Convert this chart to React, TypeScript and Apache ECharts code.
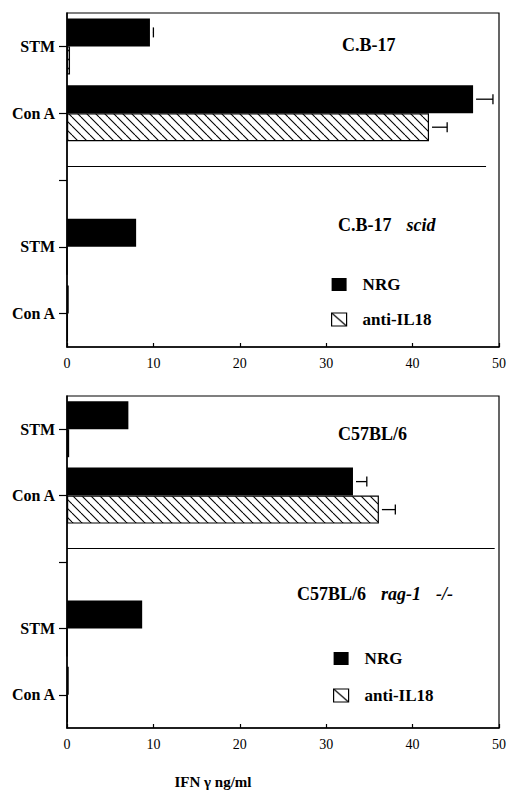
import React, { useEffect, useRef } from "react";
import * as echarts from "echarts";

// ---- data ----
const categories = ["STM", "Con A"];
const xTicks = [0, 10, 20, 30, 40, 50];
const seriesNames = ["NRG", "anti-IL18"];

// Figure 1: C.B-17 (top panel) and C.B-17 scid (bottom panel)
const cb17Nrg = [9.6, 47.0];
const cb17NrgErr = [0.4, 2.3];
const cb17Anti = [0.35, 41.9];
const cb17AntiErr = [0, 2.1];
const scidNrg = [8.0, 0.2];
const scidAnti = [0, 0.1];

// Figure 2: C57BL/6 (top panel) and C57BL/6 rag-1 -/- (bottom panel)
const c57Nrg = [7.1, 33.1];
const c57NrgErr = [0, 1.6];
const c57Anti = [0.25, 36.1];
const c57AntiErr = [0, 1.9];
const ragNrg = [8.7, 0.2];
const ragAnti = [0, 0.1];

const axisName = "IFN γ ng/ml";

const SERIF = "'Liberation Serif', 'Times New Roman', serif";

function makeHatch(size: number) {
  const c = document.createElement("canvas");
  c.width = size;
  c.height = size;
  const ctx = c.getContext("2d")!;
  ctx.fillStyle = "#fff";
  ctx.fillRect(0, 0, size, size);
  ctx.strokeStyle = "#000";
  ctx.lineWidth = 1.1;
  for (const k of [-1, 0, 1]) {
    ctx.beginPath();
    ctx.moveTo(k * size, 0);
    ctx.lineTo(k * size + size, size);
    ctx.stroke();
  }
  return c;
}

function makeLegendHatch(w: number, h: number) {
  const c = document.createElement("canvas");
  c.width = w;
  c.height = h;
  const ctx = c.getContext("2d")!;
  ctx.fillStyle = "#fff";
  ctx.fillRect(0, 0, w, h);
  ctx.strokeStyle = "#000";
  ctx.lineWidth = 1.3;
  ctx.beginPath();
  ctx.moveTo(0, 0);
  ctx.lineTo(w, h);
  ctx.stroke();
  return c;
}

export default function App() {
  const ref = useRef<HTMLDivElement>(null);

  useEffect(() => {
    document.body.style.margin = "0";
    if (!ref.current) return;
    const chart = echarts.init(ref.current, undefined, { renderer: "svg" });

    const hatchCanvas = makeHatch(9);
    const hatch: any = { image: hatchCanvas, repeat: "repeat", imageWidth: 9, imageHeight: 9 };
    const legendCanvas = makeLegendHatch(15, 13);
    const legendHatch: any = { image: legendCanvas, repeat: "no-repeat", imageWidth: 15, imageHeight: 13 };

    const yLabels = [...categories, "", ...categories];

    const figures = [
      { top: [cb17Nrg, cb17Anti], topErr: [cb17NrgErr, cb17AntiErr], bottom: [scidNrg, scidAnti], dividerEnd: 48.5 },
      { top: [c57Nrg, c57Anti], topErr: [c57NrgErr, c57AntiErr], bottom: [ragNrg, ragAnti], dividerEnd: 49.5 },
    ];

    const grids = [
      { left: 67, top: 13, width: 432, height: 334 },
      { left: 67, top: 396, width: 432, height: 338 },
    ];

    const series: any[] = [];
    figures.forEach((fig, gi) => {
      seriesNames.forEach((name, si) => {
        const data = [...fig.top[si], "-", ...fig.bottom[si]];
        series.push({
          type: "bar",
          name,
          xAxisIndex: gi,
          yAxisIndex: gi,
          data,
          barWidth: 28,
          barGap: "0%",
          silent: true,
          itemStyle:
            si === 0
              ? { color: "#000" }
              : { color: hatch, borderColor: "#000", borderWidth: 1.2 },
          markLine:
            si === 0
              ? {
                  silent: true,
                  symbol: ["none", "none"],
                  label: { show: false },
                  lineStyle: { color: "#000", width: 1.2, type: "solid" },
                  data: [[{ coord: [0, 2] }, { coord: [fig.dividerEnd, 2] }]],
                }
              : undefined,
        });
      });
      const errData: number[][] = [];
      seriesNames.forEach((_, si) => {
        fig.topErr[si].forEach((e, ci) => {
          if (e > 0) errData.push([ci, fig.top[si][ci], e, si === 0 ? -1 : 1]);
        });
      });
      series.push({
        type: "custom",
        name: "err" + gi,
        xAxisIndex: gi,
        yAxisIndex: gi,
        silent: true,
        encode: { x: 1, y: 0 },
        data: errData,
        renderItem: (params: any, api: any) => {
          const cat = api.value(0);
          const v = api.value(1);
          const e = api.value(2);
          const side = api.value(3);
          const c0 = api.coord([v, cat]);
          const c1 = api.coord([v + e, cat]);
          const y = c0[1] + side * 14;
          const x0 = Math.min(c0[0] + 3, c1[0]);
          return {
            type: "group",
            children: [
              { type: "line", shape: { x1: x0, y1: y, x2: c1[0], y2: y }, style: { stroke: "#000", lineWidth: 1.3 } },
              { type: "line", shape: { x1: c1[0], y1: y - 5, x2: c1[0], y2: y + 5 }, style: { stroke: "#000", lineWidth: 1.3 } },
            ],
          };
        },
      });
    });

    const boldText = { fontFamily: SERIF, fontWeight: "bold", fontSize: 18, color: "#000" };

    chart.setOption({
      animation: false,
      backgroundColor: "#fff",
      title: [
        { text: "C.B-17", left: 342, top: 36, padding: 0, textStyle: boldText },
        {
          text: "{a|C.B-17}{b|scid}",
          left: 338,
          top: 216,
          padding: 0,
          textStyle: {
            ...boldText,
            rich: { a: { ...boldText }, b: { ...boldText, fontStyle: "italic", padding: [0, 0, 0, 15] } },
          },
        },
        { text: "C57BL/6", left: 338, top: 425, padding: 0, textStyle: boldText },
        {
          text: "{a|C57BL/6}{b|rag-1}{c|-/-}",
          left: 297,
          top: 585,
          padding: 0,
          textStyle: {
            ...boldText,
            rich: {
              a: { ...boldText },
              b: { ...boldText, fontStyle: "italic", padding: [0, 0, 0, 15] },
              c: { ...boldText, fontStyle: "italic", padding: [0, 0, 0, 15] },
            },
          },
        },
      ],
      legend: [0, 1].map((i) => ({
        orient: "vertical",
        left: i === 0 ? 331 : 333,
        top: i === 0 ? 276 : 650,
        itemWidth: 15,
        itemHeight: 13,
        itemGap: i === 0 ? 18 : 20,
        icon: "rect",
        selectedMode: false,
        padding: 0,
        textStyle: { fontFamily: SERIF, fontWeight: "bold", fontSize: 17, color: "#000", padding: [0, 0, 0, 11] },
        data: [
          { name: "NRG", itemStyle: { color: "#000", borderWidth: 0 } },
          { name: "anti-IL18", itemStyle: { color: legendHatch, borderColor: "#000", borderWidth: 1.2 } },
        ],
      })),
      grid: grids.map((g) => ({ ...g, show: true, borderColor: "#000", borderWidth: 1.2, backgroundColor: "transparent" })),
      xAxis: [0, 1].map((i) => ({
        type: "value",
        gridIndex: i,
        min: xTicks[0],
        max: xTicks[xTicks.length - 1],
        interval: xTicks[1] - xTicks[0],
        splitLine: { show: false },
        axisLine: { show: true, lineStyle: { color: "#000", width: 1.5 } },
        axisTick: { show: true, inside: true, length: 4, lineStyle: { color: "#000", width: 1.2 } },
        axisLabel: { fontFamily: SERIF, fontSize: 14, color: "#000", margin: 9 },
        name: i === 1 ? axisName : "",
        nameLocation: "middle",
        nameGap: 46,
        nameTextStyle: { fontFamily: SERIF, fontWeight: "bold", fontSize: 15, color: "#000", padding: [0, 140, 0, 0] },
      })),
      yAxis: [0, 1].map((i) => ({
        type: "category",
        gridIndex: i,
        inverse: true,
        data: yLabels,
        axisLine: { show: true, lineStyle: { color: "#000", width: 1.5 } },
        axisTick: { show: true, alignWithLabel: true, length: 8, lineStyle: { color: "#000", width: 1.2 } },
        axisLabel: { fontFamily: SERIF, fontWeight: "bold", fontSize: 16, color: "#000", margin: 12 },
        splitLine: { show: false },
      })),
      series,
    });

    return () => chart.dispose();
  }, []);

  return <div ref={ref} style={{ width: 509, height: 790 }} />;
}
